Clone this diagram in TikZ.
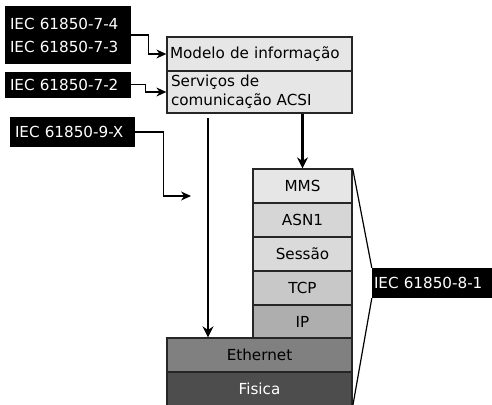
\documentclass[tikz,border=0pt]{standalone}
\usepackage{fontspec}
\setmainfont{DejaVu Sans}
\usetikzlibrary{arrows.meta}
\definecolor{cMMS}{HTML}{E6E6E6}
\definecolor{cASN}{HTML}{D6D6D6}
\definecolor{cSES}{HTML}{DADADA}
\definecolor{cTCP}{HTML}{C8C8C8}
\definecolor{cIP}{HTML}{AEAEAE}
\definecolor{cETH}{HTML}{808080}
\definecolor{cFIS}{HTML}{4D4D4D}
\tikzset{
  lbl/.style={fill=black, text=white, inner sep=0pt, font=\fontsize{15.2}{23}\selectfont},
  layer/.style={draw=black!85, line width=1.3pt, inner sep=0pt, font=\fontsize{15.2}{20}\selectfont},
  thin arrow/.style={line width=1.1pt, -{Stealth[length=10pt,width=9pt]}},
  thick arrow/.style={line width=2.2pt, -{Stealth[length=11pt,width=11pt]}},
  bracket/.style={line width=1.2pt}
}
\begin{document}
\begin{tikzpicture}[x=1pt,y=-1pt]
\useasboundingbox (0,0) rectangle (492,404);
% labels
\node[lbl, minimum width=126pt, minimum height=58pt, align=left, text width=116pt] (l1) at (68,35) {IEC 61850-7-4\\IEC 61850-7-3};
\node[lbl, minimum width=126pt, minimum height=26pt, align=left, text width=116pt] (l2) at (68,84.5) {IEC 61850-7-2};
\node[lbl, minimum width=125pt, minimum height=30pt, align=left, text width=115pt] (l3) at (72.5,132) {IEC 61850-9-X};
\node[lbl, minimum width=120pt, minimum height=30pt, align=left, text width=116pt] (l4) at (432,283) {IEC 61850-8-1};
% top boxes
\node[layer, fill=cMMS, minimum width=185pt, minimum height=34pt, align=left, text width=179pt] (mod) at (259.5,54) {Modelo de informação};
\node[layer, fill=cMMS, minimum width=185pt, minimum height=42pt, align=left, text width=177pt, font=\fontsize{15.2}{19}\selectfont] (serv) at (259.5,92) {Serviços de\\comunicação ACSI};
% stack
\node[layer, fill=cMMS, minimum width=99pt, minimum height=34pt] (mms) at (302.5,186) {MMS};
\node[layer, fill=cASN, minimum width=99pt, minimum height=34pt] (asn) at (302.5,220) {ASN1};
\node[layer, fill=cSES, minimum width=99pt, minimum height=34pt] (ses) at (302.5,254) {Sessão};
\node[layer, fill=cTCP, minimum width=99pt, minimum height=34pt] (tcp) at (302.5,288) {TCP};
\node[layer, fill=cIP, minimum width=99pt, minimum height=33pt] (ip) at (302.5,321.5) {IP};
\node[layer, fill=cETH, minimum width=185pt, minimum height=34pt] (eth) at (259.5,355) {Ethernet};
\node[layer, fill=cFIS, text=white, minimum width=185pt, minimum height=34pt] (fis) at (259.5,389) {Fisica};
% connectors
\draw[thin arrow] (l1.east) -- ++(17,0) |- (mod.west);
\draw[thin arrow] (l2.east) -- ++(14,0) |- (serv.west);
\coordinate (e3) at (191,196);
\draw[thin arrow] (l3.east) -- ++(28,0) |- (e3);
\coordinate (s4) at (208,118);
\draw[thick arrow] (s4) -- (s4 |- eth.north);
\draw[thick arrow] (mms.north |- serv.south) -- (mms.north);
\draw[bracket] (mms.north east) -- (l4.north west);
\draw[bracket] (fis.south east) -- (l4.south west);
\end{tikzpicture}
\end{document}
